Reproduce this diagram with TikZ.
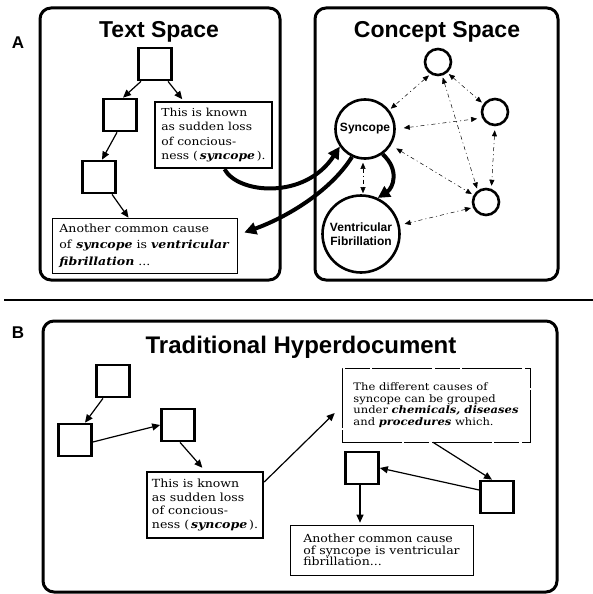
\documentclass[tikz,border=0pt]{standalone}
\usepackage{fontspec}
\setmainfont{DejaVu Serif}[FakeStretch=1.12]
\newfontfamily\hfont{Liberation Sans}
\usetikzlibrary{arrows.meta}

\newcommand{\bi}[1]{\textbf{\textit{#1}}}

\begin{document}
\begin{tikzpicture}[x=1pt,y=-1pt,
  panel/.style={draw, line width=3pt, rounded corners=11pt},
  title/.style={font=\hfont\bfseries\fontsize{23}{26}\selectfont, anchor=base, inner sep=0pt},
  tag/.style={font=\hfont\bfseries\fontsize{17}{20}\selectfont, inner sep=0pt},
  doc/.style={draw, line width=2.7pt, minimum width=33pt, minimum height=32pt, inner sep=0pt},
  txt/.style={align=left, inner xsep=4pt, inner ysep=2pt},
  strongbox/.style={txt, draw, line width=2.4pt},
  lightbox/.style={txt, draw, line width=0.6pt},
  broken/.style={dash pattern=on 60pt off 2pt on 25pt off 3pt},
  concept/.style={circle, draw, line width=2.6pt, inner sep=0pt, align=center,
    font=\hfont\bfseries\fontsize{12}{14.5}\selectfont},
  dot/.style={circle, draw, line width=2.6pt, minimum size=26pt, inner sep=0pt},
  docarrow/.style={line width=1.2pt, -{Triangle[length=8pt,width=7pt]}},
  heavyarrow/.style={line width=4pt, -{Triangle[length=12pt,width=12pt]}},
  assoc/.style={line width=0.5pt, dash pattern=on 4pt off 3pt on 1pt off 3pt,
    {Triangle[length=6pt,width=5pt]}-{Triangle[length=6pt,width=5pt]},
    shorten <=2pt, shorten >=2pt},
]
\useasboundingbox (0,0) rectangle (593,594);

% ---------- part A ----------
\node[tag] (la) at (18,43) {A};
\draw[panel] (40,8) rectangle (280,280);
\draw[panel] (315,8) rectangle (558,280);
\node[title] (tts) at (159,37.5) {Text Space};
\node[title] (tcs) at (437,37.5) {Concept Space};

% text space: documents
\node[doc] (t1) at (155,64) {};
\node[doc] (t2) at (120,115) {};
\node[doc] (t3) at (99,177) {};
\node[strongbox, minimum width=117pt, minimum height=66pt,
      font=\fontsize{11}{14.3}\selectfont] (ka) at (213.5,135)
  {This is known\\as sudden loss\\of concious-\\ness (\,\bi{syncope}\,).};
\node[lightbox, minimum width=185pt, minimum height=55pt,
      font=\fontsize{11.2}{16.5}\selectfont] (aa) at (144.5,245.5)
  {Another common cause\\of \bi{syncope} is \bi{ventricular}\\\bi{fibrillation} ...};

\draw[docarrow] ([xshift=-14pt]t1.south) -- ([xshift=3pt]t2.north);
\draw[docarrow, shorten >=2pt] ([xshift=13pt]t1.south) -- ([xshift=-30pt]ka.north);
\draw[docarrow] ([xshift=-3pt]t2.south) -- ([xshift=3pt]t3.north);
\draw[docarrow] ([xshift=13pt]t3.south) -- ([xshift=-16pt]aa.north);

% concept space
\node[concept, minimum size=59pt] (sy) at (365,129) {Syncope};
\node[concept, minimum size=77pt] (vf) at (361,234) {Ventricular\\Fibrillation};
\node[dot] (c1) at (438,62) {};
\node[dot] (c2) at (495,112) {};
\node[dot] (c3) at (486,202) {};

\draw[assoc] (c1.-122) -- (sy.38);
\draw[assoc] (c1.-49) -- (c2.145);
\draw[assoc] (c1.-73) -- (c3.126);
\draw[assoc, shorten <=8pt, shorten >=5pt] (sy.0) -- (c2.205);
\draw[assoc, shorten <=4pt, shorten >=3pt] (c2.-90) -- (c3.68);
\draw[assoc, shorten <=6pt] (sy.-32) -- (c3.151);
\draw[assoc, shorten >=5pt] (c3.203) -- (vf.13);
\draw[assoc, shorten <=3pt, shorten >=1pt] ([xshift=-2pt]sy.south) -- ([xshift=2pt]vf.north);

% links between the two spaces
\draw[heavyarrow] ([xshift=11pt]ka.south) .. controls (238,194) and (305,200) .. (sy.215);
\draw[heavyarrow] (sy.245) .. controls (330,192) and (285,218) .. ([xshift=7pt,yshift=13pt]aa.east);
\draw[heavyarrow] (sy.-55) .. controls (400,170) and (393,188) .. (vf.65);

% separator
\draw[line width=2.5pt] (4,300) -- (593,300);

% ---------- part B ----------
\node[tag] (lb) at (18,333) {B};
\draw[panel] (43,321) rectangle (557,592);
\node[title, font=\hfont\bfseries\fontsize{24}{27}\selectfont] (tth) at (301,353) {Traditional Hyperdocument};

\node[doc] (b1) at (113,381) {};
\node[doc] (b2) at (75,440) {};
\node[doc] (b3) at (178,425) {};
\node[doc] (b4) at (362,468) {};
\node[doc] (b5) at (497,497) {};

\node[strongbox, minimum width=116pt, minimum height=66pt,
      font=\fontsize{11.2}{13.7}\selectfont] (kb) at (205,505)
  {This is known\\as sudden loss\\of concious-\\ness (\,\bi{syncope}\,).};
\node[lightbox, broken, minimum width=188pt, minimum height=74pt,
      font=\fontsize{10.3}{11.6}\selectfont] (db) at (436,405)
  {The different causes of\\syncope can be grouped\\under \bi{chemicals, diseases}\\and \bi{procedures} which.};
\node[lightbox, minimum width=183pt, minimum height=50pt,
      font=\fontsize{11.2}{11.8}\selectfont] (ab) at (381.5,550)
  {Another common cause\\of syncope is ventricular\\fibrillation...};

\draw[docarrow] ([xshift=-10pt]b1.south) -- ([xshift=10pt]b2.north);
\draw[docarrow] ([yshift=-2pt]b2.east) -- (b3.west);
\draw[docarrow, shorten >=4pt] ([xshift=2pt]b3.south) -- (kb.north);
\draw[docarrow] ([yshift=23pt]kb.east) -- ([xshift=-7pt,yshift=-8pt]db.west);
\draw[docarrow] ([xshift=-3pt]db.south) -- ([xshift=-5pt]b5.north);
\draw[docarrow] ([yshift=7pt]b5.west) -- (b4.east);
\draw[docarrow, shorten >=2pt] ([xshift=-2pt]b4.south) -- ([xshift=-21.5pt]ab.north);
\end{tikzpicture}
\end{document}
